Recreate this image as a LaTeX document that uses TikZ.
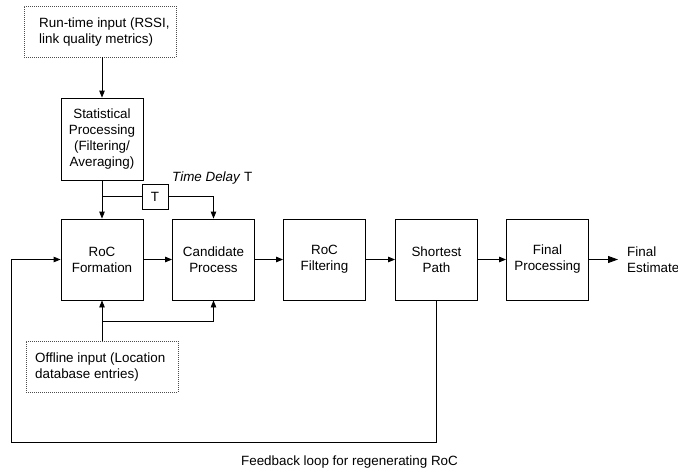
\documentclass[tikz,border=0pt]{standalone}
\usepackage{fontspec}
\setmainfont{Liberation Sans}
\usetikzlibrary{arrows.meta,positioning}
\tikzset{
  blk/.style={draw, line width=0.85pt, minimum width=82pt, minimum height=81pt,
    inner sep=0pt, align=center, font=\fontsize{13.4}{16}\selectfont},
  inbox/.style={draw=black!70, dash pattern=on 1pt off 1pt, line width=0.9pt, inner sep=0pt},
  txt/.style={inner sep=0pt, font=\fontsize{13.4}{16}\selectfont},
  conn/.style={line width=0.85pt},
  arr/.style={conn, -{Triangle[length=7pt,width=5.5pt]}}
}
\begin{document}
\begin{tikzpicture}[x=1pt,y=-1pt]
  \useasboundingbox (0,0) rectangle (678,472);

  % inputs
  \node[inbox, minimum width=152pt, minimum height=51pt] (rt) at (100,31.5) {};
  \node[txt, align=left, anchor=west] (rttxt) at (39,32) {Run-time input (RSSI,\\link quality metrics)};
  \node[inbox, minimum width=152pt, minimum height=51pt] (off) at (102,366.5) {};
  \node[txt, align=left, anchor=west] (offtxt) at (35,367) {Offline input (Location\\database entries)};

  % processing blocks
  \node[blk, minimum height=82pt] (stat) at (102,139) {Statistical\\Processing\\(Filtering/\\Averaging)};
  \node[blk] (roc)  at (102,259.5)   {RoC\\Formation};
  \node[blk] (cand) at (213.5,259.5) {Candidate\\Process};
  \node[blk] (filt) at (324.5,259.5) {RoC\\Filtering};
  \node[blk] (sp)   at (436.5,259.5) {Shortest\\Path};
  \node[blk] (fin)  at (547.5,259.5) {Final\\Processing};
  \node[txt, align=left, anchor=west] (est) at (627,260) {Final\\Estimate};

  % delay element
  \node[draw, line width=0.85pt, minimum width=26pt, minimum height=25pt, inner sep=0pt,
        font=\fontsize{13.4}{16}\selectfont] (T) at (155,196.5) {T};
  \node[txt, anchor=west] (tdl) at (172,178) {\textit{Time Delay} T};

  \node[txt] (fb) at (349.5,462) {Feedback loop for regenerating RoC};

  % connectors
  \draw[arr] (rt.south -| stat.north) -- (stat.north);
  \draw[arr] (stat.south) -- (roc.north);
  \coordinate (br) at (stat.south |- T.west);
  \draw[conn] (br) -- (T.west);
  \draw[arr] (T.east) -| (cand.north);

  \draw[arr] (off.north -| roc.south) -- (roc.south);
  \coordinate (ob) at (102,321);
  \draw[arr] (ob) -| (cand.south);

  \draw[arr] (roc.east) -- (cand.west);
  \draw[arr] (cand.east) -- (filt.west);
  \draw[arr] (filt.east) -- (sp.west);
  \draw[arr] (sp.east) -- (fin.west);
  \draw[conn, -{Triangle[length=10pt,width=7pt]}] (fin.east) -- (618,259.5);

  \coordinate (fbr) at (436.5,442);
  \coordinate (fbl) at (11,442);
  \draw[arr] (sp.south) -- (fbr) -- (fbl) |- (roc.west);
\end{tikzpicture}
\end{document}
